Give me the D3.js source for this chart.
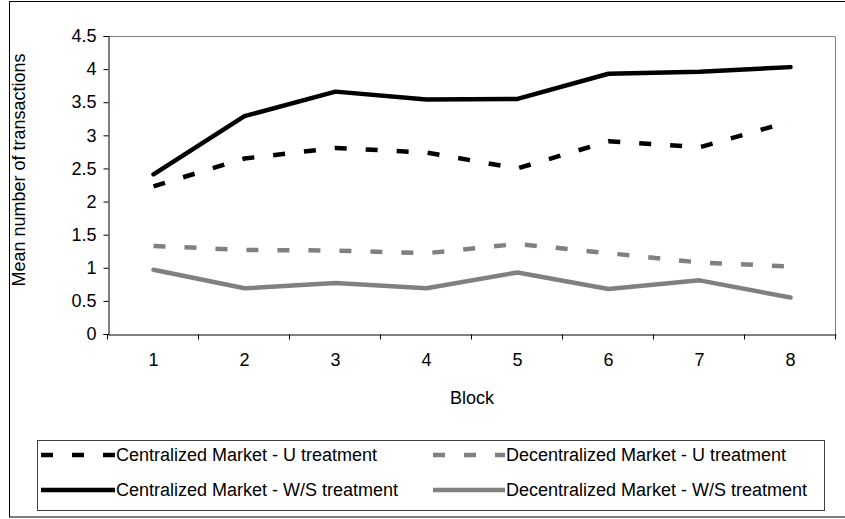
<!DOCTYPE html>
<html>
<head>
<meta charset="utf-8">
<script src="https://cdn.jsdelivr.net/npm/d3@7"></script>
<style>
  body { margin: 0; background: #fff; }
  svg { display: block; font-family: "Liberation Sans", Arial, sans-serif; }
</style>
</head>
<body>
<svg></svg>
<script>
// data
var blocks = [1, 2, 3, 4, 5, 6, 7, 8];
var centralU = [2.23, 2.65, 2.81, 2.74, 2.50, 2.91, 2.82, 3.21];
var decentralU = [1.33, 1.27, 1.26, 1.22, 1.36, 1.22, 1.08, 1.02];
var centralWS = [2.41, 3.29, 3.66, 3.54, 3.55, 3.93, 3.96, 4.03];
var decentralWS = [0.97, 0.69, 0.77, 0.69, 0.93, 0.68, 0.81, 0.55];
var yTicks = [0, 0.5, 1, 1.5, 2, 2.5, 3, 3.5, 4, 4.5];
var seriesNames = [
  "Centralized Market - U treatment",
  "Decentralized Market - U treatment",
  "Centralized Market - W/S treatment",
  "Decentralized Market - W/S treatment"
];

var config = { w: 845, h: 519, left: 108, right: 836, top: 36, bottom: 334 };

// series styling
var series = [
  { name: seriesNames[0], values: centralU, color: "#000", dash: "12,19" },
  { name: seriesNames[1], values: decentralU, color: "#808080", dash: "12,19" },
  { name: seriesNames[2], values: centralWS, color: "#000", dash: null },
  { name: seriesNames[3], values: decentralWS, color: "#808080", dash: null }
];

var svg = d3.select("svg")
  .attr("width", config.w)
  .attr("height", config.h);

// outer chart frame
svg.append("rect")
  .attr("x", 9.5).attr("y", 1.5)
  .attr("width", 845).attr("height", 515.5)
  .attr("fill", "none")
  .attr("stroke", "#000");

var x = d3.scaleBand()
  .domain(blocks)
  .range([config.left, config.right])
  .padding(0);

var y = d3.scaleLinear()
  .domain([0, 4.5])
  .range([config.bottom, config.top]);

var cx = function(d, i) { return x(blocks[i]) + x.bandwidth() / 2; };

// plot area border (top + right gray)
svg.append("path")
  .attr("d", "M" + config.left + "," + (config.top + 0.5) + "H" + (config.right - 0.5) + "V" + config.bottom)
  .attr("fill", "none")
  .attr("stroke", "#808080");

// y axis
var yAxis = d3.axisLeft(y)
  .tickValues(yTicks)
  .tickSize(5)
  .tickPadding(7)
  .tickFormat(function(d) { return d; });

var gy = svg.append("g")
  .attr("transform", "translate(" + (config.left + 0.5) + ",0)")
  .call(yAxis);
gy.select(".domain").attr("stroke", "#000");
gy.selectAll(".tick line").attr("stroke", "#000");
gy.selectAll("text")
  .attr("font-size", 18)
  .attr("font-family", "Liberation Sans, Arial, sans-serif")
  .attr("fill", "#000");

// x axis: labels centered in bands, ticks between them
var xAxis = d3.axisBottom(x)
  .tickSize(0)
  .tickPadding(19);

var gx = svg.append("g")
  .attr("transform", "translate(0," + (config.bottom + 0.5) + ")")
  .call(xAxis);
gx.select(".domain").attr("stroke", "#000");
gx.selectAll("text")
  .attr("font-size", 18)
  .attr("font-family", "Liberation Sans, Arial, sans-serif")
  .attr("fill", "#000");

var bounds = blocks.map(function(d) { return x(d); }).concat([config.right]);
gx.selectAll("line.sep")
  .data(bounds)
  .enter().append("line")
  .attr("class", "sep")
  .attr("x1", function(d) { return Math.round(d) - 0.5; })
  .attr("x2", function(d) { return Math.round(d) - 0.5; })
  .attr("y1", 0).attr("y2", 5)
  .attr("stroke", "#000");

// axis titles
svg.append("text")
  .attr("x", (config.left + config.right) / 2)
  .attr("y", 404)
  .attr("text-anchor", "middle")
  .attr("font-size", 18)
  .text("Block");

svg.append("text")
  .attr("transform", "translate(25,170) rotate(-90)")
  .attr("text-anchor", "middle")
  .attr("font-size", 18)
  .text("Mean number of transactions");

// lines
var line = d3.line()
  .x(cx)
  .y(function(d) { return y(d); });

svg.append("g").selectAll("path")
  .data(series)
  .enter().append("path")
  .attr("d", function(s) { return line(s.values); })
  .attr("fill", "none")
  .attr("stroke", function(s) { return s.color; })
  .attr("stroke-width", 4.5)
  .attr("stroke-dasharray", function(s) { return s.dash; })
  .attr("stroke-linejoin", "round")
  .attr("stroke-linecap", function(s) { return s.dash ? "butt" : "round"; });

// legend
var leg = svg.append("g").attr("id", "legend");
leg.append("rect")
  .attr("x", 37.5).attr("y", 440.5)
  .attr("width", 787).attr("height", 70)
  .attr("fill", "none")
  .attr("stroke", "#404040");

var legPos = [
  { x: 41, y: 455 },
  { x: 433, y: 455 },
  { x: 41, y: 490 },
  { x: 433, y: 490 }
];

var items = leg.selectAll("g.item")
  .data(series)
  .enter().append("g")
  .attr("class", "item")
  .attr("transform", function(d, i) { return "translate(" + legPos[i].x + "," + legPos[i].y + ")"; });

items.append("line")
  .attr("x1", 0).attr("x2", function(d, i) { return i % 2 ? 72 : 74; })
  .attr("y1", 0).attr("y2", 0)
  .attr("stroke", function(s) { return s.color; })
  .attr("stroke-width", 4.5)
  .attr("stroke-dasharray", function(s) { return s.dash; })
  .attr("stroke-linecap", "butt");

items.append("text")
  .attr("x", function(d, i) { return i % 2 ? 73 : 75; })
  .attr("y", 0)
  .attr("dy", "0.35em")
  .attr("font-size", 18)
  .text(function(s) { return s.name; });
</script>
</body>
</html>
